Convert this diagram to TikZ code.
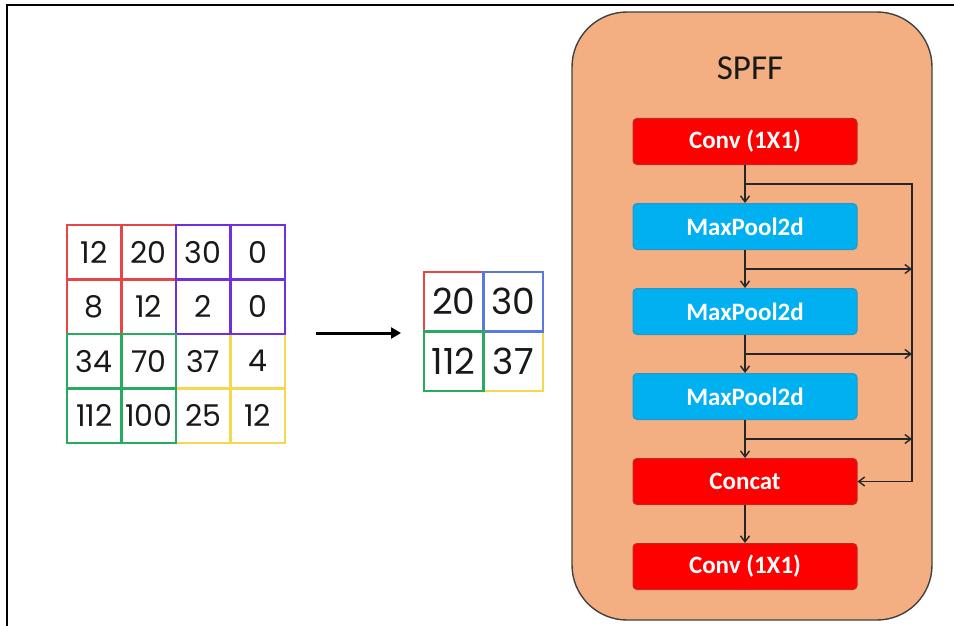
\documentclass[tikz,border=0pt]{standalone}
\usepackage{fontspec}
\setmainfont{Poppins}
\newfontfamily\boxfont{Carlito}
\usetikzlibrary{arrows.meta,positioning,calc}

\definecolor{spffbg}{RGB}{243,175,130}
\definecolor{convred}{RGB}{255,0,0}
\definecolor{convedge}{RGB}{190,40,40}
\definecolor{poolblue}{RGB}{0,176,240}
\definecolor{pooledge}{RGB}{40,150,200}
\definecolor{qred}{RGB}{232,70,70}
\definecolor{qpurple}{RGB}{112,48,220}
\definecolor{qgreen}{RGB}{40,170,95}
\definecolor{qyellow}{RGB}{245,215,80}
\definecolor{qblue}{RGB}{90,120,225}

\begin{document}
\begin{tikzpicture}[
  x=1pt,y=-1pt,
  cell/.style={draw,minimum size=54.5pt,inner sep=0pt,line width=2.4pt,
    text=black!90,font=\fontsize{30}{30}\selectfont},
  outcell/.style={draw,minimum size=59.5pt,inner sep=0pt,line width=2.4pt,
    text=black!90,font=\fontsize{36}{36}\selectfont},
  block/.style={rounded corners=4pt,minimum width=224pt,minimum height=46pt,
    inner sep=0pt,line width=1pt,text=white,font=\boxfont\bfseries\fontsize{25}{25}\selectfont},
  conv/.style={block,fill=convred,draw=convedge},
  pool/.style={block,fill=poolblue,draw=pooledge},
  >={Straight Barb[length=6pt,width=9pt]}
]
\useasboundingbox (0,0) rectangle (954,626);
\draw[line width=2.5pt] (7,626) -- (7,5) -- (954,5);

% input feature map, drawn quadrant by quadrant
\foreach \c/\r/\v/\col in {3/3/37/qyellow,4/3/4/qyellow,3/4/25/qyellow,4/4/12/qyellow,
    1/1/12/qred,2/1/20/qred,1/2/8/qred,2/2/12/qred,
    3/1/30/qpurple,4/1/0/qpurple,3/2/2/qpurple,4/2/0/qpurple,
    1/3/34/qgreen,2/3/70/qgreen,1/4/112/qgreen,2/4/100/qgreen}{
  \node[cell,draw=\col] (in\c\r) at ({67+54.5*(\c-0.5)},{225+54.5*(\r-0.5)}) {\v};
}

% pooled output
\foreach \c/\r/\v/\col in {2/2/37/qyellow,1/1/20/qred,2/1/30/qblue,1/2/112/qgreen}{
  \node[outcell,draw=\col] (out\c\r) at ({424+59.5*(\c-0.5)},{272+59.5*(\r-0.5)}) {\v};
}

\coordinate (pstart) at (316,333);
\coordinate (pend) at (401,333);
\draw[-{Triangle[length=10pt,width=11pt]},line width=3pt] (pstart) -- (pend);

% SPFF block
\draw[fill=spffbg,draw=black!75,line width=1.4pt,rounded corners=55pt] (572,12) rectangle (932,620);
\node[font=\boxfont\fontsize{35}{35}\selectfont,text=black!90] (title) at (750,68) {SPFF};

\node[conv] (conv1) at (745,141.5) {Conv (1X1)};
\node[pool,below=38pt of conv1] (mp1) {MaxPool2d};
\node[pool,below=38pt of mp1] (mp2) {MaxPool2d};
\node[pool,below=38pt of mp2] (mp3) {MaxPool2d};
\node[conv,below=38pt of mp3] (concat) {Concat};
\node[conv,below=38pt of concat] (conv2) {Conv (1X1)};

\tikzset{every path/.append style={line width=1.4pt,draw=black!85}}
\draw[->] (conv1) -- (mp1);
\draw[->] (mp1) -- (mp2);
\draw[->] (mp2) -- (mp3);
\draw[->] (mp3) -- (concat);
\draw[->] (concat) -- (conv2);

\coordinate (rail) at (912,0);
\coordinate (b1) at ($(conv1.south)!0.5!(mp1.north)$);
\coordinate (b2) at ($(mp1.south)!0.5!(mp2.north)$);
\coordinate (b3) at ($(mp2.south)!0.5!(mp3.north)$);
\coordinate (b4) at ($(mp3.south)!0.5!(concat.north)$);
\draw[->] (b1) -- (b1 -| rail) -- (concat.east -| rail) -- (concat.east);
\draw[->] (b2) -- (b2 -| rail);
\draw[->] (b3) -- (b3 -| rail);
\draw[->] (b4) -- (b4 -| rail);
\end{tikzpicture}
\end{document}
